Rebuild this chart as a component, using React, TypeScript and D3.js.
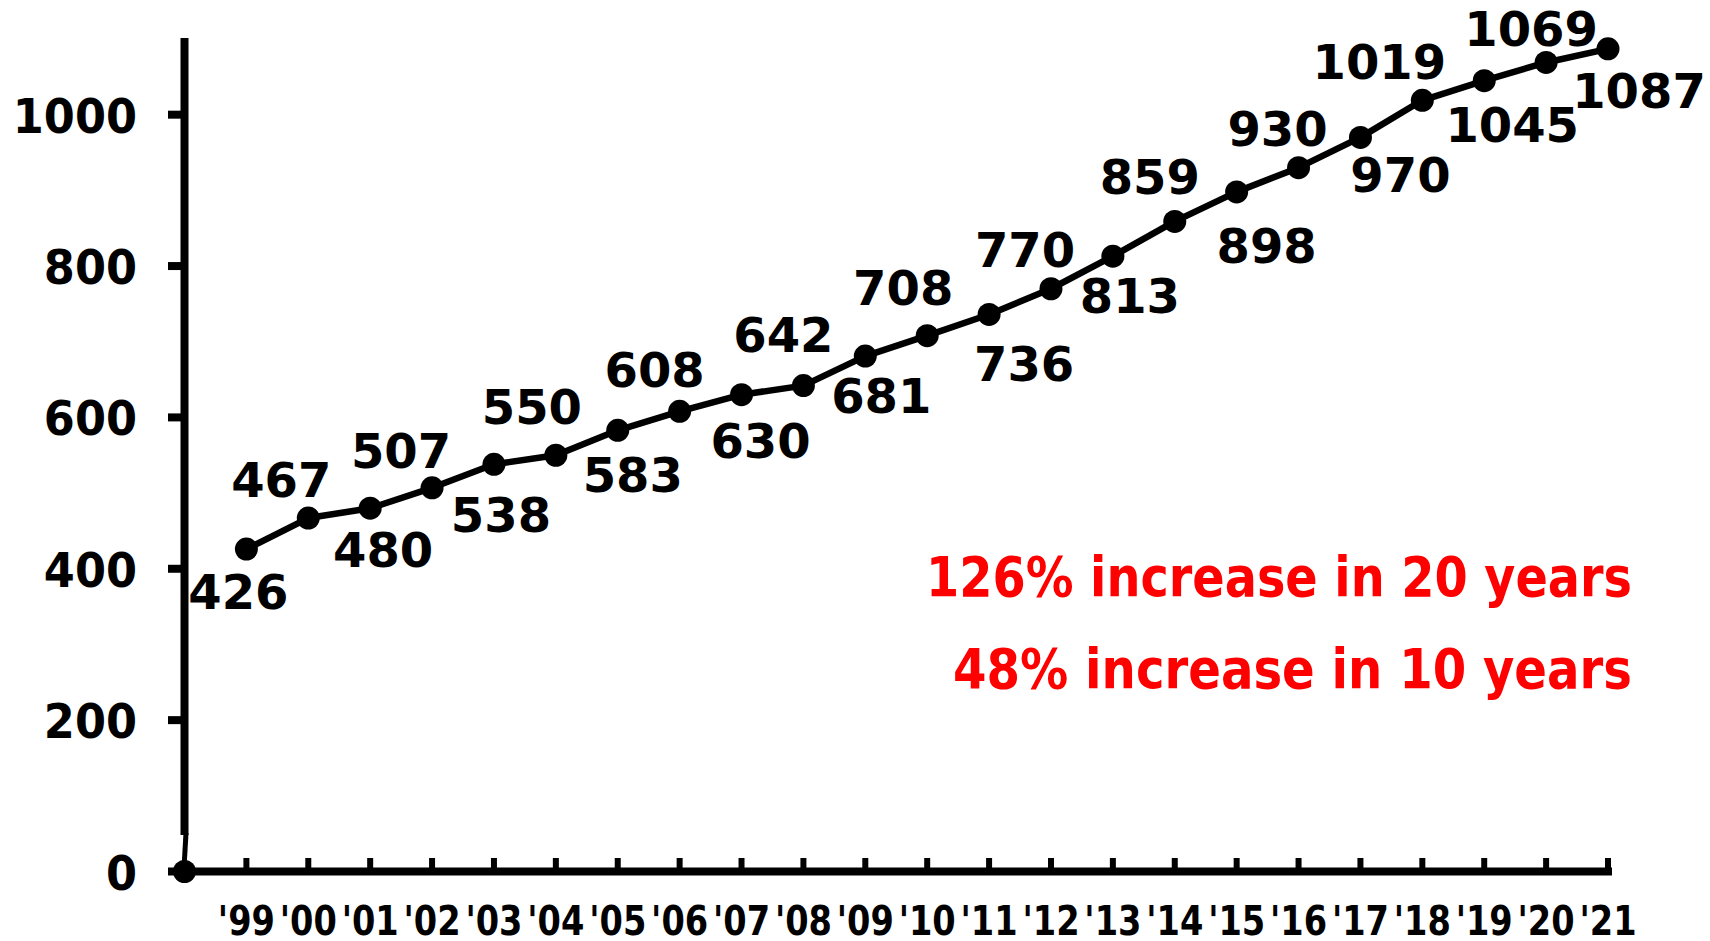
import React from "react";
import * as d3 from "d3";

const years = ["'99","'00","'01","'02","'03","'04","'05","'06","'07","'08","'09","'10","'11","'12","'13","'14","'15","'16","'17","'18","'19","'20","'21"];
const values = [426,467,480,507,538,550,583,608,630,642,681,708,736,770,813,859,898,930,970,1019,1045,1069,1087];
const yTicks = [0,200,400,600,800,1000];
const notes = ["126% increase in 20 years","48% increase in 10 years"];
// label nudges (layout only): [dx, dy] from the point
const labelNudge: [number, number][] = [
  [-8,60],[-27,-21],[13,59],[-31,-20],[7,68],[-24,-31],[15,62],[-25,-24],[19,63],[-20,-34],
  [16,57],[-24,-31],[35,67],[-26,-22],[17,57],[-25,-27],[30,71],[-21,-22],[40,55],[-43,-21],
  [28,61],[-15,-16],[31,59]
];

const W = 1710, H = 941;
const FONT = "'DejaVu Sans', Verdana, sans-serif";

export default function App() {
  const x = d3.scaleLinear().domain([-1, years.length - 1]).range([184.5, 1608]);
  const y = d3.scaleLinear().domain([0, 1100]).range([871.5, 39]);
  const line = d3.line<number>().x((_, i) => x(i)).y(d => y(d));
  const axisX = x(-1);
  const axisY = y(0);

  return (
    <svg width={W} height={H} style={{ position: "absolute", left: 0, top: 0, background: "#fff" }}>
      <rect width={W} height={H} fill="#fff" />
      {/* y axis */}
      <line x1={axisX} x2={axisX} y1={38} y2={835} stroke="#000" strokeWidth={8} />
      <line x1={axisX + 1.5} x2={axisX - 0.5} y1={833} y2={868} stroke="#000" strokeWidth={5} />
      {yTicks.map(t => (
        <g key={t}>
          <line x1={168} x2={axisX} y1={y(t)} y2={y(t)} stroke="#000" strokeWidth={8} />
          <text transform={`translate(137,${y(t) + 18})scale(0.93,1)`} textAnchor="end"
            fontFamily={FONT} fontWeight="bold" fontSize={48} fill="#000">{t}</text>
        </g>
      ))}
      {/* x axis */}
      <line x1={axisX - 4} x2={1612} y1={axisY} y2={axisY} stroke="#000" strokeWidth={8} />
      {years.map((yr, i) => (
        <g key={yr}>
          <line x1={x(i)} x2={x(i)} y1={axisY} y2={858} stroke="#000" strokeWidth={6} />
          <text transform={`translate(${x(i)},935)scale(0.82,1)`} textAnchor="middle"
            fontFamily={FONT} fontWeight="bold" fontSize={41} fill="#000">{yr}</text>
        </g>
      ))}
      {/* origin dot */}
      <circle cx={axisX} cy={axisY} r={11.5} fill="#000" />
      {/* series */}
      <path d={line(values) || ""} fill="none" stroke="#000" strokeWidth={6.5} strokeLinejoin="round" />
      {values.map((v, i) => (
        <circle key={i} cx={x(i)} cy={y(v)} r={11.5} fill="#000" />
      ))}
      {values.map((v, i) => (
        <text key={"l" + i} x={x(i) + labelNudge[i][0]} y={y(v) + labelNudge[i][1]} textAnchor="middle"
          fontFamily={FONT} fontWeight="bold" fontSize={48} fill="#000">{v}</text>
      ))}
      {/* notes */}
      <text x={926} y={596} textLength={706} lengthAdjust="spacingAndGlyphs"
        fontFamily={FONT} fontWeight="bold" fontSize={56} fill="#ff0000">{notes[0]}</text>
      <text x={953} y={688} textLength={679} lengthAdjust="spacingAndGlyphs"
        fontFamily={FONT} fontWeight="bold" fontSize={56} fill="#ff0000">{notes[1]}</text>
    </svg>
  );
}
